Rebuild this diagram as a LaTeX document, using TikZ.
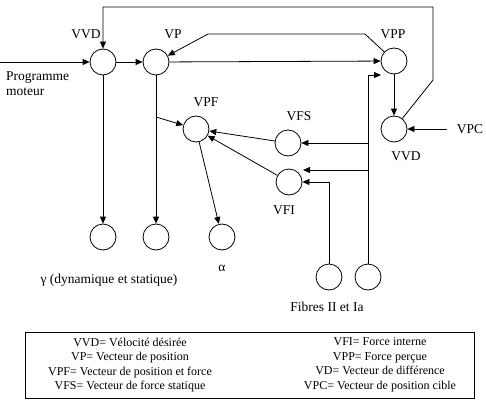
\documentclass[tikz,border=0pt]{standalone}
\usepackage{fontspec}
\setmainfont{Liberation Serif}
\usetikzlibrary{arrows.meta}
\tikzset{
	neuron/.style={circle,draw,minimum size=26pt,inner sep=0pt,line width=0.8pt},
	lbl/.style={font=\fontsize{13.5}{15}\selectfont,inner sep=0pt},
	fl/.style={-{Triangle[length=7pt,width=6pt]},line width=0.8pt},
}
\begin{document}
\begin{tikzpicture}[x=1pt,y=-1pt]
		\useasboundingbox (0,0) rectangle (486,401);
		% circles
		\node[neuron](vvd) at (103,62) {};
		\node[neuron](vp) at (156,62) {};
		\node[neuron](vpp) at (394,61) {};
		\node[neuron](vd) at (394,129) {};
		\node[neuron](vpf) at (196,129) {};
		\node[neuron](vfs) at (288,143) {};
		\node[neuron](vfi) at (289,182) {};
		\node[neuron](gd) at (103,237) {};
		\node[neuron](gs) at (156,237) {};
		\node[neuron](al) at (222,237) {};
		\node[neuron](f2) at (329,277) {};
		\node[neuron](fa) at (368,277) {};

		% labels
		\node[lbl](tvvd) at (86,34) {VVD};
		\node[lbl](tvp) at (173,34) {VP};
		\node[lbl](tvpp) at (393,34) {VPP};
		\node[lbl,align=left,anchor=west](tprog) at (6,84) {Programme\\moteur};
		\node[lbl](tvpf) at (206,102) {VPF};
		\node[lbl](tvfs) at (299,116) {VFS};
		\node[lbl](tvfi) at (284,210) {VFI};
		\node[lbl](tvd) at (406,156) {VVD};
		\node[lbl](tvpc) at (470,129) {VPC};
		\node[lbl](talpha) at (222,268) {α};
		\node[lbl](tgamma) at (109,280) {γ (dynamique et statique)};
		\node[lbl](tfib) at (327,307) {Fibres II et Ia};

		% bends and free ends
		\coordinate(pin) at (0,62);
		\coordinate(fb1) at (433,80);
		\coordinate(fb2) at (433,7);
		\coordinate(fb3) at (103,7);
		\coordinate(b1) at (365,34);
		\coordinate(b2) at (208,34);
		\coordinate(vpcin) at (447,129);
		\coordinate(r1) at (368,75);
		\coordinate(r1e) at (381,75);
		\coordinate(r2) at (368,143);
		\coordinate(r3) at (368,170);
		\coordinate(r3e) at (303,170);
		\coordinate(vpb) at (156,117);

		% connectors
		\path [fl](pin) edge (vvd);
		\path [fl](vvd) edge (vp);
		\path [fl](vp) edge (vpp);
		\draw [fl](vd) -- (fb1) -- (fb2) -- (fb3) -- (vvd);
		\draw [fl](vpp) -- (b1) -- (b2) -- (vp);
		\path [fl](vpp) edge (vd);
		\path [fl](vpcin) edge (vd);
		\draw [fl](fa) -- (r1) -- (r1e);
		\path [fl](r2) edge (vfs);
		\path [fl](r3) edge (r3e);
		\draw [fl](f2) |- (vfi);
		\path [fl](vfs) edge (vpf);
		\path [fl](vfi) edge (vpf);
		\path [fl](vvd) edge (gd);
		\path [fl](vp) edge (gs);
		\path [fl](vpb) edge (vpf);
		\path [fl](vpf) edge (al);

		% legend
		\node[draw,line width=1pt,minimum width=449pt,minimum height=66pt](leg) at (249.5,365) {};
		\node[align=center,font=\fontsize{12}{14.5}\selectfont](legl) at (130,365) {VVD= Vélocité désirée\\VP= Vecteur de position\\VPF= Vecteur de position et force\\VFS= Vecteur de force statique};
		\node[align=center,font=\fontsize{12}{14.5}\selectfont](legr) at (380,365) {VFI= Force interne\\VPP= Force perçue\\VD= Vecteur de différence\\VPC= Vecteur de position cible};
	\end{tikzpicture}
\end{document}
